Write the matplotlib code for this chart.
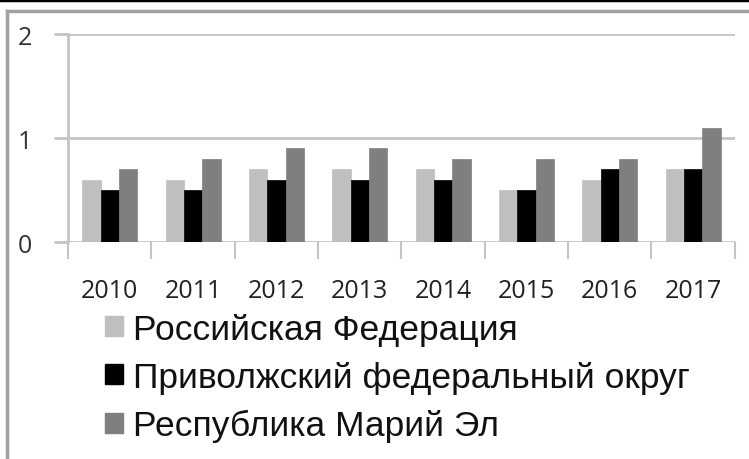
import numpy as np
import matplotlib.pyplot as plt
from matplotlib.lines import Line2D
from matplotlib.patches import Rectangle

years = ["2010", "2011", "2012", "2013", "2014", "2015", "2016", "2017"]
rf = [0.6, 0.6, 0.7, 0.7, 0.7, 0.5, 0.6, 0.7]
pfo = [0.5, 0.5, 0.6, 0.6, 0.6, 0.5, 0.7, 0.7]
mari_el = [0.7, 0.8, 0.9, 0.9, 0.8, 0.8, 0.8, 1.1]
series_names = ["Российская Федерация", "Приволжский федеральный округ", "Республика Марий Эл"]
colors = ["#bfbfbf", "#000000", "#7f7f7f"]

fig = plt.figure(figsize=(7.49, 4.60), dpi=100)
ax = fig.add_axes([0.0908, 0.4717, 0.8902, 0.4522])

x = np.arange(len(years)) + 0.5
w = 0.22
for i, (vals, c) in enumerate(zip([rf, pfo, mari_el], colors)):
    ax.bar(x + (i - 1) * w, vals, width=w, color=c, edgecolor=c, linewidth=0.5, zorder=3)

ax.set_xlim(0, len(years))
ax.set_ylim(0, 2)
ax.set_yticks([0, 1, 2])
ax.set_yticklabels(["0", "1", "2"], family="Open Sans", fontsize=18, color="#333333")
ax.yaxis.grid(True, color="#c4c4c4", linewidth=2, zorder=0)
ax.tick_params(axis="y", length=10, width=2, color="#c4c4c4", pad=16)

# boundaries between years carry tick marks, labels sit at the centres
ax.set_xticks(np.arange(len(years) + 1))
ax.set_xticklabels([])
ax.set_xticks(x, minor=True)
ax.set_xticklabels(years, minor=True, family="Open Sans", fontsize=18, color="#222222")
ax.tick_params(axis="x", which="major", length=12, width=1.5, color="#c4c4c4")
ax.tick_params(axis="x", which="minor", length=0, pad=26)

for s in ["top", "right", "bottom"]:
    ax.spines[s].set_visible(False)
ax.spines["left"].set_color("#c4c4c4")
ax.spines["left"].set_linewidth(2)
ax.spines["left"].set_bounds(0, 2)

handles = [Rectangle((0, 0), 1, 1, color=c) for c in colors]
leg = fig.legend(handles, series_names, loc="upper left", bbox_to_anchor=(0.14, 0.318),
                 frameon=False, prop={"family": "Liberation Sans", "size": 25.5},
                 handlelength=0.5, handleheight=0.5, handletextpad=0.3, labelspacing=0.43,
                 borderaxespad=0, borderpad=0)
for t in leg.get_texts():
    t.set_color("#111111")

# outer frame
fig.add_artist(Line2D([0, 1], [0.998, 0.998], color="black", linewidth=2.5, transform=fig.transFigure))
fig.add_artist(Line2D([0.009, 1], [0.973, 0.973], color="#a0a0a0", linewidth=2.5, transform=fig.transFigure))
fig.add_artist(Line2D([0.009, 0.009], [0.973, 0], color="#a0a0a0", linewidth=2.5, transform=fig.transFigure))

fig.savefig("out.png", dpi=100)
